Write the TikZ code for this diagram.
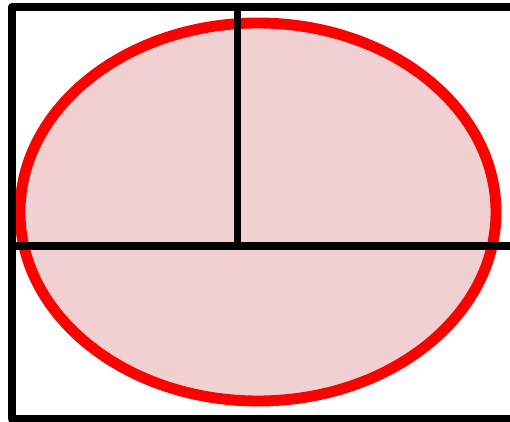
\documentclass[tikz,border=0pt]{standalone}
\usepackage{tikz}
\usetikzlibrary{positioning}
\definecolor{pinkfill}{RGB}{240,208,208}

\begin{document}
\begin{tikzpicture}[x=0.02cm,y=-0.02cm]

\coordinate (o) at (0,0);
\coordinate (e) at (510,422);
\coordinate (c) at (258,212);
\coordinate (tl) at (12,7);
\coordinate (br) at (530,419);
\coordinate (h1) at (12,246);
\coordinate (h2) at (530,246);
\coordinate (v1) at (237.5,7);
\coordinate (v2) at (237.5,246);

\useasboundingbox (o) rectangle (e);
\clip (o) rectangle (e);

\draw[red, line width=6.2pt, fill=pinkfill] (c) ellipse [x radius=238, y radius=189];

\draw[line width=4.5pt, black, line join=round] (tl) rectangle (br);
\draw[line width=4.5pt, black] (h1)--(h2);
\draw[line width=4.5pt, black] (v1)--(v2);

\end{tikzpicture}
\end{document}
